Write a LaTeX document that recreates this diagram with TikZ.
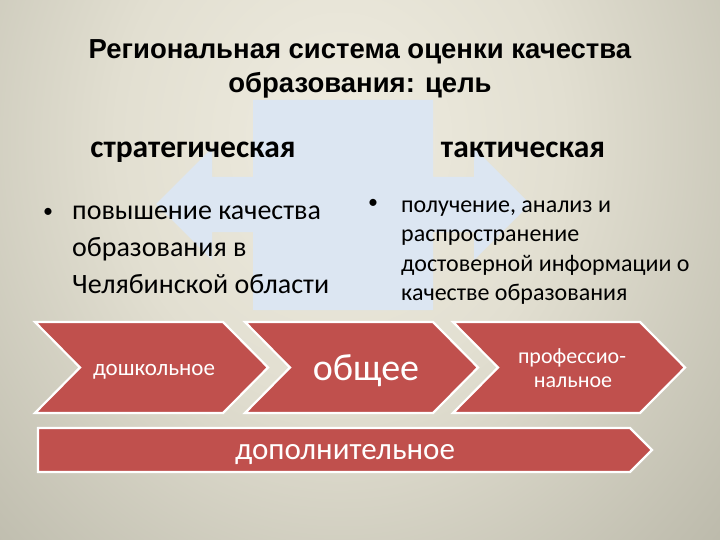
\documentclass[tikz,border=0pt]{standalone}
\usepackage{fontspec}
\setmainfont{Carlito}
\newfontfamily\titlefont{Liberation Sans}
\definecolor{bg0}{HTML}{EFECE0}
\definecolor{bg1}{HTML}{E2DFD1}
\definecolor{bg2}{HTML}{BAB8A9}
\definecolor{bg3}{HTML}{9C9A8C}
\definecolor{bg4}{HTML}{85847A}
\definecolor{arrowblue}{HTML}{DCE6F2}
\definecolor{chevred}{HTML}{C0504D}
\pgfdeclareradialshading{bgshade}{\pgfpointorigin}{color(0bp)=(bg0); color(10bp)=(bg1); color(24bp)=(bg2); color(34bp)=(bg3); color(50bp)=(bg4)}
\begin{document}
\begin{tikzpicture}[x=1pt,y=-1pt,
  titlestyle/.style={inner sep=0pt, font=\titlefont\bfseries\fontsize{27.5}{32}\selectfont, text=black},
  headstyle/.style={inner sep=0pt, font=\bfseries\fontsize{31.5}{36}\selectfont, text=black},
  bigtext/.style={inner sep=0pt, font=\fontsize{28}{34}\selectfont, text=black},
  smalltext/.style={inner sep=0pt, font=\fontsize{24}{29}\selectfont, text=black},
  bulletstyle/.style={inner sep=0pt, font=\fontsize{20}{24}\selectfont, text=black},
  chev/.style={fill=chevred, draw=white, line width=2.2pt, line join=miter},
  chevtext/.style={inner sep=0pt, text=white}]
\useasboundingbox (0,0) rectangle (720,540);
\begin{scope}
\clip (0,0) rectangle (720,540);
\shade[shading=bgshade] (340,140) ellipse [x radius=560pt, y radius=640pt];
\end{scope}
% light blue double arrow
\fill[arrowblue] (253,100) -- (433,100) -- (433,177) -- (474,177) -- (474,148) -- (530,204)
  -- (474,260) -- (474,232) -- (433,232) -- (433,310) -- (253,310) -- (253,232) -- (212,232)
  -- (212,260) -- (156,204) -- (212,148) -- (212,177) -- (253,177) -- cycle;
% title
\node[titlestyle, anchor=base] (title1) at (360,59) {Региональная система оценки качества};
\node[titlestyle, anchor=base] (title2) at (360,93) {образования: цель};
% headings
\node[headstyle, anchor=base] (strat) at (193,158) {стратегическая};
\node[headstyle, anchor=base] (tact) at (523,158) {тактическая};
% left list
\node[bulletstyle, anchor=base] (lbul) at (48,218) {•};
\node[bigtext, anchor=base west] (l1) at (72,220) {повышение качества};
\node[bigtext, anchor=base west] (l2) at (72,256) {образования в};
\node[bigtext, anchor=base west] (l3) at (72,293) {Челябинской области};
% right list
\node[bulletstyle, anchor=base] (rbul) at (373,209) {•};
\node[smalltext, anchor=base west] (r1) at (401,212) {получение, анализ и};
\node[smalltext, anchor=base west] (r2) at (401,241) {распространение};
\node[smalltext, anchor=base west] (r3) at (401,271) {достоверной информации о};
\node[smalltext, anchor=base west] (r4) at (401,300) {качестве образования};
% chevrons
\draw[chev] (35,322) -- (223,322) -- (268,367.5) -- (223,413) -- (35,413) -- (80,367.5) -- cycle;
\draw[chev] (245,322) -- (433,322) -- (478,367.5) -- (433,413) -- (245,413) -- (290,367.5) -- cycle;
\draw[chev] (453,322) -- (640,322) -- (685,367.5) -- (640,413) -- (453,413) -- (498,367.5) -- cycle;
\draw[chev] (38,428) -- (630,428) -- (652,450) -- (630,472) -- (38,472) -- cycle;
\node[chevtext, anchor=base, font=\fontsize{23}{28}\selectfont] (c1) at (154,375) {дошкольное};
\node[chevtext, anchor=base, font=\fontsize{38}{44}\selectfont] (c2) at (366,380) {общее};
\node[chevtext, anchor=base, font=\fontsize{22}{26}\selectfont] (c3a) at (572,363) {профессио-};
\node[chevtext, anchor=base, font=\fontsize{22}{26}\selectfont] (c3b) at (573,387) {нальное};
\node[chevtext, anchor=base, font=\fontsize{31}{36}\selectfont] (c4) at (345,459) {дополнительное};
\end{tikzpicture}
\end{document}
